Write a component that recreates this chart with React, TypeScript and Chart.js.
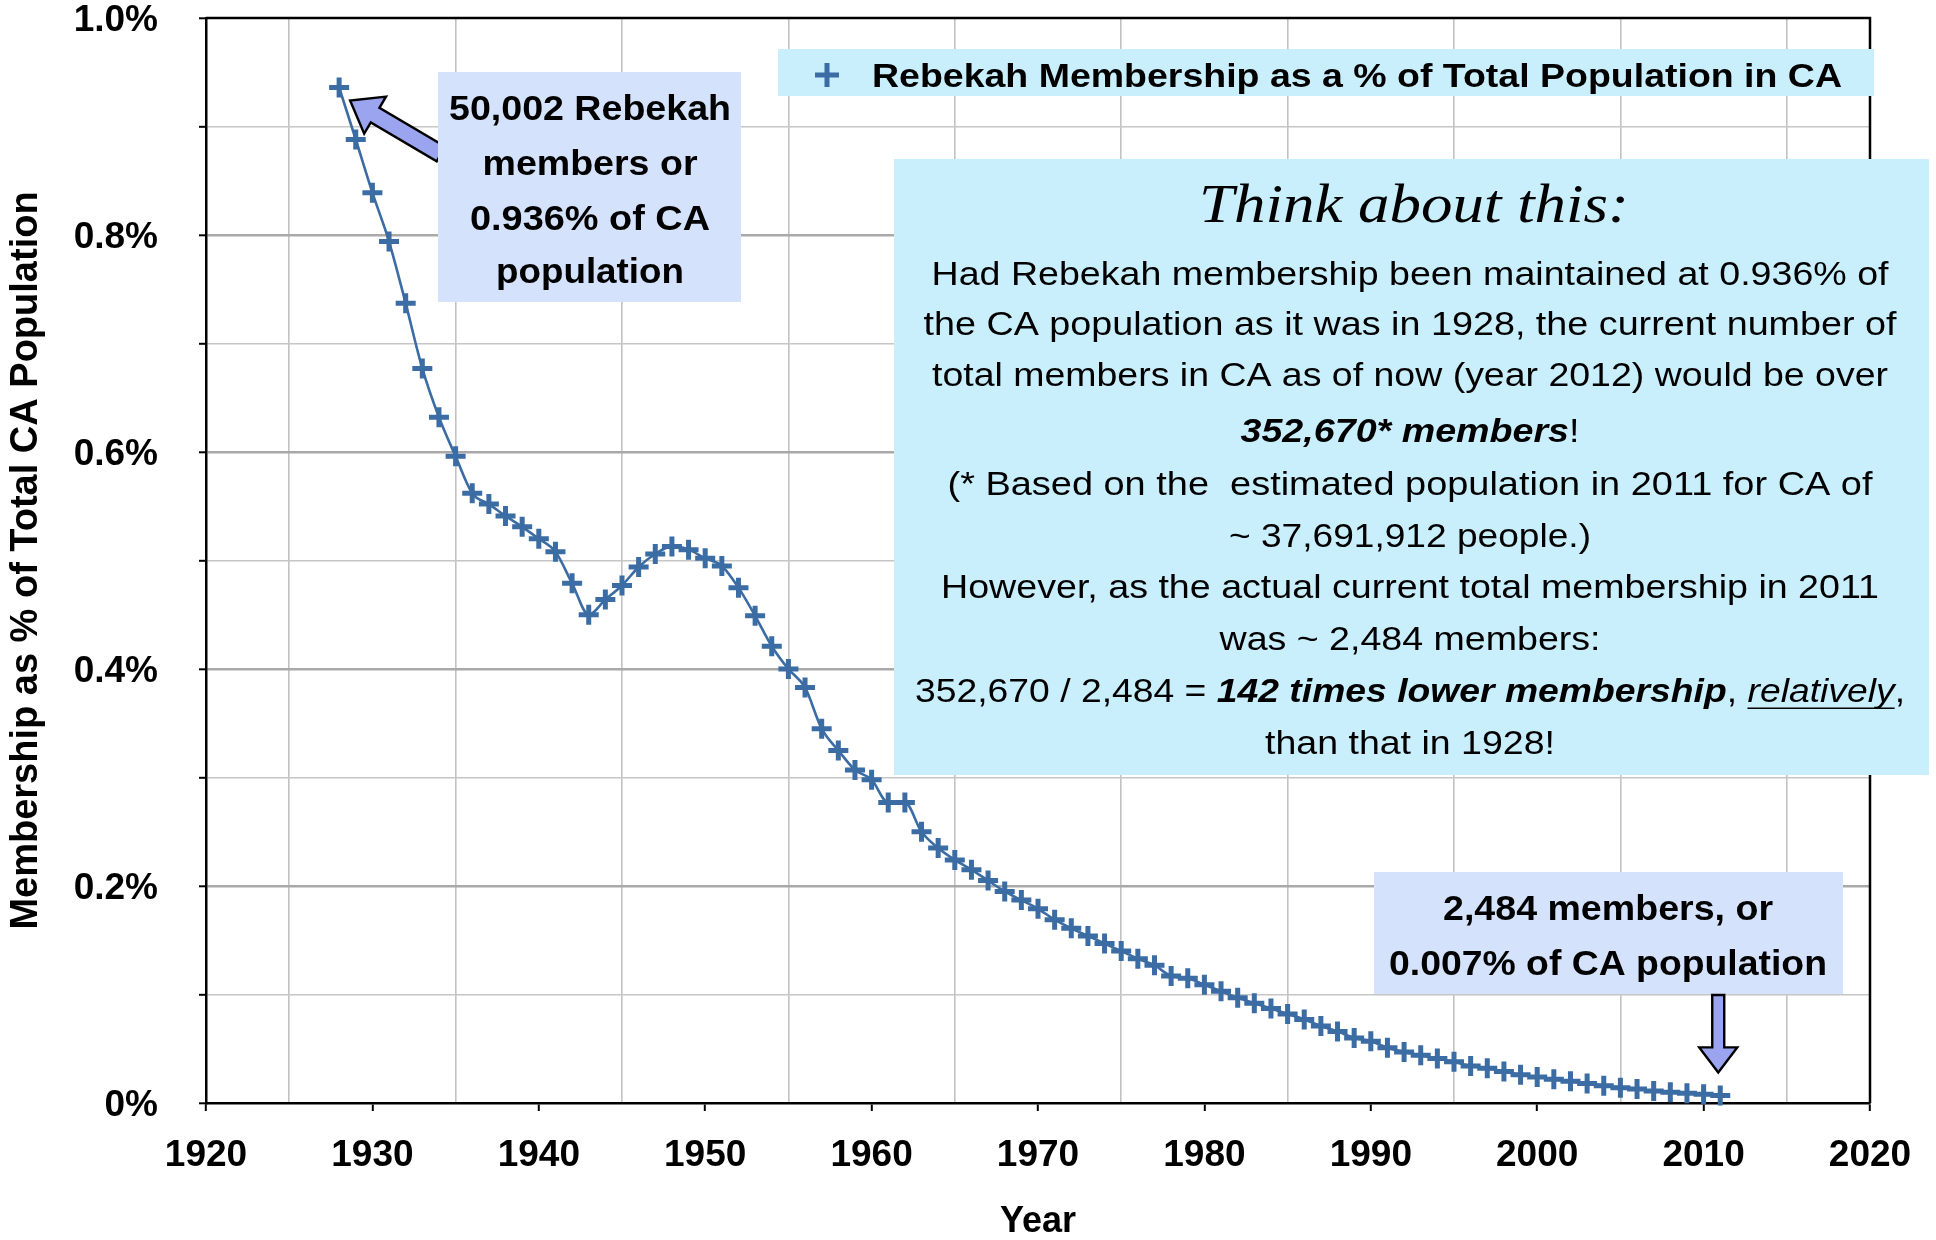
import React, { useEffect, useRef } from 'react';
import { Chart, registerables } from 'chart.js';

Chart.register(...registerables);

// ---------------- DATA ----------------
const years = [
  1928, 1929, 1930, 1931, 1932, 1933, 1934, 1935, 1936, 1937,
  1938, 1939, 1940, 1941, 1942, 1943, 1944, 1945, 1946, 1947,
  1948, 1949, 1950, 1951, 1952, 1953, 1954, 1955, 1956, 1957,
  1958, 1959, 1960, 1961, 1962, 1963, 1964, 1965, 1966, 1967,
  1968, 1969, 1970, 1971, 1972, 1973, 1974, 1975, 1976, 1977,
  1978, 1979, 1980, 1981, 1982, 1983, 1984, 1985, 1986, 1987,
  1988, 1989, 1990, 1991, 1992, 1993, 1994, 1995, 1996, 1997,
  1998, 1999, 2000, 2001, 2002, 2003, 2004, 2005, 2006, 2007,
  2008, 2009, 2010, 2011,
];

// membership as % of total CA population
const membershipPct = [
  0.936, 0.888, 0.839, 0.794, 0.737, 0.677, 0.632, 0.596, 0.562, 0.552,
  0.541, 0.531, 0.520, 0.508, 0.479, 0.450, 0.464, 0.477, 0.494, 0.506,
  0.513, 0.510, 0.502, 0.495, 0.475, 0.449, 0.421, 0.400, 0.383, 0.345,
  0.325, 0.307, 0.298, 0.277, 0.277, 0.250, 0.235, 0.224, 0.215, 0.205,
  0.195, 0.187, 0.179, 0.169, 0.161, 0.154, 0.147, 0.140, 0.133, 0.127,
  0.117, 0.115, 0.109, 0.103, 0.097, 0.092, 0.087, 0.082, 0.077, 0.071,
  0.066, 0.060, 0.057, 0.051, 0.047, 0.044, 0.041, 0.038, 0.034, 0.032,
  0.029, 0.026, 0.024, 0.022, 0.020, 0.018, 0.016, 0.014, 0.013, 0.011,
  0.010, 0.009, 0.008, 0.007,
];

const xMin = 1920;
const xMax = 2020;
const yMin = 0;
const yMax = 1.0;

const seriesLabel = 'Rebekah Membership as a % of Total Population in CA';
const xTitle = 'Year';
const yTitle = 'Membership as % of Total CA Population';

const callout1Lines = ['50,002 Rebekah', 'members or', '0.936% of CA', 'population'];
const callout2Lines = ['2,484 members, or', '0.007% of CA population'];
const noteTitle = 'Think about this:';

// ---------------- STYLE ----------------
const SANS = '"Liberation Sans", Arial, Helvetica, sans-serif';
const SERIF = '"Liberation Serif", "DejaVu Serif", serif';
const LINE_COLOR = '#3b6ca3';
const CYAN_BG = '#c9eefc';
const LAV_BG = '#d4e2fb';
const ARROW_FILL = '#9aa4ef';

type Seg = { t: string; b?: boolean; i?: boolean; u?: boolean };

function fontOf(s: Seg, size: number, fam: string) {
  return `${s.i ? 'italic ' : ''}${s.b ? 'bold ' : ''}${size}px ${fam}`;
}

function drawFitLine(
  ctx: CanvasRenderingContext2D,
  segs: Seg[],
  cx: number,
  cy: number,
  size: number,
  fam: string,
  targetW: number,
  color = '#000'
) {
  const ws = segs.map((s) => {
    ctx.font = fontOf(s, size, fam);
    return ctx.measureText(s.t).width;
  });
  const total = ws.reduce((a, b) => a + b, 0);
  const sx = targetW / total;
  ctx.save();
  ctx.translate(cx - targetW / 2, cy + 3);
  ctx.scale(sx, 1);
  ctx.fillStyle = color;
  ctx.strokeStyle = color;
  ctx.textAlign = 'left';
  ctx.textBaseline = 'middle';
  let xx = 0;
  segs.forEach((s, k) => {
    ctx.font = fontOf(s, size, fam);
    ctx.fillText(s.t, xx, 0);
    if (s.u) {
      ctx.lineWidth = 1.6;
      ctx.beginPath();
      ctx.moveTo(xx, size * 0.46);
      ctx.lineTo(xx + ws[k], size * 0.46);
      ctx.stroke();
    }
    xx += ws[k];
  });
  ctx.restore();
}

function drawArrow(
  ctx: CanvasRenderingContext2D,
  tipX: number,
  tipY: number,
  tailX: number,
  tailY: number,
  shaftHalf: number,
  headHalf: number,
  headLen: number
) {
  const dx = tailX - tipX;
  const dy = tailY - tipY;
  const len = Math.hypot(dx, dy);
  const ux = dx / len;
  const uy = dy / len;
  const nx = -uy;
  const ny = ux;
  const p = (a: number, n: number) => [tipX + ux * a + nx * n, tipY + uy * a + ny * n];
  const pts = [
    p(0, 0),
    p(headLen, headHalf),
    p(headLen, shaftHalf),
    p(len, shaftHalf),
    p(len, -shaftHalf),
    p(headLen, -shaftHalf),
    p(headLen, -headHalf),
  ];
  ctx.save();
  ctx.beginPath();
  pts.forEach(([x, y], i) => (i === 0 ? ctx.moveTo(x, y) : ctx.lineTo(x, y)));
  ctx.closePath();
  ctx.fillStyle = ARROW_FILL;
  ctx.fill();
  ctx.strokeStyle = '#000';
  ctx.lineWidth = 2.4;
  ctx.lineJoin = 'miter';
  ctx.stroke();
  ctx.restore();
}

const noteLines: { segs: Seg[]; y: number; w: number }[] = [
  { segs: [{ t: 'Had Rebekah membership been maintained at 0.936% of' }], y: 273, w: 957 },
  { segs: [{ t: 'the CA population as it was in 1928, the current number of' }], y: 323, w: 973 },
  { segs: [{ t: 'total members in CA as of now (year 2012) would be over' }], y: 374, w: 956 },
  { segs: [{ t: '352,670* members', b: true, i: true }, { t: '!' }], y: 430, w: 339 },
  { segs: [{ t: '(* Based on the  estimated population in 2011 for CA of' }], y: 483, w: 925 },
  { segs: [{ t: '~ 37,691,912 people.)' }], y: 535, w: 362 },
  { segs: [{ t: 'However, as the actual current total membership in 2011' }], y: 586, w: 938 },
  { segs: [{ t: 'was ~ 2,484 members:' }], y: 638, w: 381 },
  {
    segs: [
      { t: '352,670 / 2,484 = ' },
      { t: '142 times lower membership', b: true, i: true },
      { t: ', ' },
      { t: 'relatively', i: true, u: true },
      { t: ',' },
    ],
    y: 690,
    w: 990,
  },
  { segs: [{ t: 'than that in 1928!' }], y: 742, w: 290 },
];

const annotationPlugin = {
  id: 'annotations',
  afterDraw(chart: any) {
    const ctx: CanvasRenderingContext2D = chart.ctx;
    const ca = chart.chartArea;
    const xs = chart.scales.x;
    const ys = chart.scales.y;
    ctx.save();

    // frame: top and right border
    ctx.strokeStyle = '#000';
    ctx.lineWidth = 2.5;
    ctx.beginPath();
    ctx.moveTo(ca.left, ca.top);
    ctx.lineTo(ca.right, ca.top);
    ctx.lineTo(ca.right, ca.bottom);
    ctx.stroke();

    // legend box
    ctx.fillStyle = CYAN_BG;
    ctx.fillRect(778, 49, 1096, 47);
    ctx.strokeStyle = LINE_COLOR;
    ctx.lineWidth = 5;
    ctx.beginPath();
    ctx.moveTo(815, 75);
    ctx.lineTo(839, 75);
    ctx.moveTo(827, 63);
    ctx.lineTo(827, 87);
    ctx.stroke();
    drawFitLine(ctx, [{ t: seriesLabel, b: true }], 872 + 485, 75, 33, SANS, 970);

    // big note box
    ctx.fillStyle = CYAN_BG;
    ctx.fillRect(894, 159, 1035, 616);
    drawFitLine(ctx, [{ t: noteTitle, i: true }], 1414, 205, 54, SERIF, 430);
    noteLines.forEach((ln) => drawFitLine(ctx, ln.segs, 1410, ln.y, 33, SANS, ln.w));

    // callout 1 with arrow to first point
    const p0x = xs.getPixelForValue(years[0]);
    const p0y = ys.getPixelForValue(membershipPct[0]);
    drawArrow(ctx, p0x + 11, p0y + 13, 441, 154, 8.5, 21.5, 29);
    ctx.fillStyle = LAV_BG;
    ctx.fillRect(438, 72, 303, 230);
    const c1y = [107, 162, 217, 270];
    const c1w = [282, 215, 240, 188];
    callout1Lines.forEach((t, i) => drawFitLine(ctx, [{ t, b: true }], 590, c1y[i], 35, SANS, c1w[i]));

    // callout 2 with arrow to last point
    ctx.fillStyle = LAV_BG;
    ctx.fillRect(1374, 872, 469, 122);
    const c2y = [907, 962];
    const c2w = [330, 438];
    callout2Lines.forEach((t, i) => drawFitLine(ctx, [{ t, b: true }], 1608, c2y[i], 35, SANS, c2w[i]));
    const pLx = xs.getPixelForValue(years[years.length - 1]);
    const pLy = ys.getPixelForValue(membershipPct[membershipPct.length - 1]);
    drawArrow(ctx, pLx - 2, pLy - 23, pLx - 2, 995, 6, 19, 25);

    ctx.restore();
  },
};

export default function App() {
  const ref = useRef<HTMLCanvasElement | null>(null);

  useEffect(() => {
    document.body.style.margin = '0';
    const canvas = ref.current!;
    const points = years.map((yr, i) => ({ x: yr, y: membershipPct[i] }));
    const tickFont = { family: SANS, size: 37, weight: 'bold' as const };

    const chart = new Chart(canvas, {
      type: 'line',
      data: {
        datasets: [
          {
            label: seriesLabel,
            data: points,
            borderColor: LINE_COLOR,
            backgroundColor: LINE_COLOR,
            borderWidth: 2.6,
            pointStyle: 'cross',
            pointRadius: 10,
            pointBorderWidth: 5,
            pointBorderColor: LINE_COLOR,
            cubicInterpolationMode: 'monotone',
            fill: false,
            clip: false as any,
          },
        ],
      },
      options: {
        animation: false,
        responsive: false,
        devicePixelRatio: 1,
        layout: { padding: { left: 0, right: 66, top: 18, bottom: 0 } },
        plugins: {
          legend: { display: false },
          tooltip: { enabled: false },
        },
        scales: {
          x: {
            type: 'linear',
            min: xMin,
            max: xMax,
            afterFit: (s: any) => {
              s.height = 137;
              s.paddingLeft = 0;
              s.paddingRight = 0;
            },
            ticks: {
              stepSize: 5,
              autoSkip: false,
              maxRotation: 0,
              padding: 23,
              color: '#000',
              font: tickFont,
              callback: (v: any) => (Math.round(v) % 10 === 0 ? String(Math.round(v)) : ''),
            },
            grid: {
              drawOnChartArea: true,
              drawTicks: true,
              tickLength: 8,
              color: (c: any) => (Math.round(c.tick.value) % 10 === 5 ? '#c2c2c2' : 'rgba(0,0,0,0)'),
              lineWidth: 1.6,
              tickColor: (c: any) => (Math.round(c.tick.value) % 10 === 0 ? '#000' : 'rgba(0,0,0,0)'),
              tickWidth: 2,
            },
            border: { display: true, color: '#000', width: 2.5 },
            title: {
              display: true,
              text: xTitle,
              color: '#000',
              font: { family: SANS, size: 36, weight: 'bold', lineHeight: 1 },
              padding: { top: 0, bottom: 0 },
            },
          },
          y: {
            type: 'linear',
            min: yMin,
            max: yMax,
            afterFit: (s: any) => {
              s.width = 206;
              s.paddingTop = 0;
              s.paddingBottom = 0;
            },
            ticks: {
              stepSize: 0.1,
              autoSkip: false,
              padding: 41,
              labelOffset: 3,
              color: '#000',
              font: tickFont,
              callback: (v: any) => {
                const k = Math.round(v * 10);
                if (k % 2 !== 0) return '';
                return k === 0 ? '0%' : (k / 10).toFixed(1) + '%';
              },
            },
            grid: {
              drawOnChartArea: true,
              drawTicks: true,
              tickLength: 7,
              color: (c: any) => {
                const k = Math.round(c.tick.value * 10);
                if (k === 0 || k === 10) return 'rgba(0,0,0,0)';
                return k % 2 === 0 ? '#a9a9a9' : '#c6c6c6';
              },
              lineWidth: (c: any) => (Math.round(c.tick.value * 10) % 2 === 0 ? 2.6 : 1.6),
              tickColor: '#000',
              tickWidth: 2,
            },
            border: { display: true, color: '#000', width: 2.5 },
            title: {
              display: true,
              text: yTitle,
              color: '#000',
              font: { family: SANS, size: 38, weight: 'bold', lineHeight: 1 },
              padding: { top: 8, bottom: 0 },
            },
          },
        },
      },
      plugins: [annotationPlugin],
    });

    return () => chart.destroy();
  }, []);

  return (
    <canvas
      ref={ref}
      width={1936}
      height={1240}
      style={{ display: 'block', width: '1936px', height: '1240px' }}
    />
  );
}
